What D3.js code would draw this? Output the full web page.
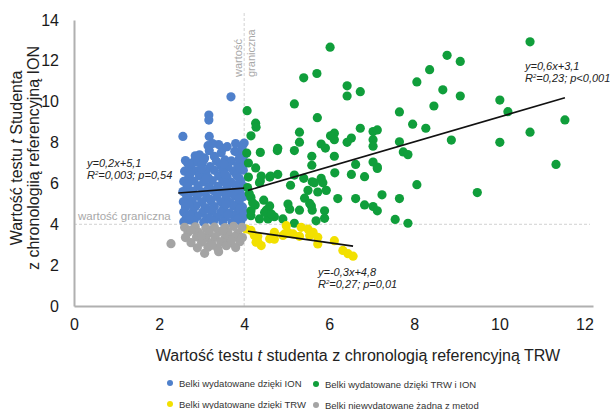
<!DOCTYPE html>
<html>
<head>
<meta charset="utf-8">
<script src="https://cdn.jsdelivr.net/npm/d3@7"></script>
<style>
  body { margin: 0; background: #fff; }
  svg { font-family: Arial, "Liberation Sans", sans-serif; }
</style>
</head>
<body>
<svg id="chart" width="610" height="409"></svg>
<script>
// points, [t TRW, t ION]
const bluePoints = [
  [3.69,10.24],[3.17,9.35],[3.17,9.1],[2.56,8.3],[3.18,8.3],[3.26,7.95],[4.0,7.98],[3.78,7.57],[3.86,7.5],[4.0,7.38],
  [3.46,7.5],[3.5,7.72],[3.18,7.6],[3.07,7.25],[2.67,7.0],[2.83,7.1],[3.3,7.32],[3.6,7.8],[3.4,7.9],[2.95,7.4],
  [2.62,7.12],[2.9,7.05],[3.05,7.15],[3.35,7.08],[3.55,7.15],[3.7,7.1],[3.95,7.05],
  [2.75,6.85],[3.0,6.9],[3.2,6.82],[3.45,6.88],[3.62,6.8],[3.85,6.86],
  [2.6,6.6],[2.88,6.62],[3.1,6.55],[3.3,6.64],[3.5,6.58],[3.75,6.6],[3.98,6.65],
  [2.7,6.35],[2.95,6.38],[3.15,6.3],[3.4,6.36],[3.6,6.32],[3.82,6.4],
  [2.58,6.1],[2.82,6.12],[3.05,6.08],[3.25,6.14],[3.5,6.1],[3.7,6.05],[3.92,6.12],
  [2.66,5.85],[2.92,5.88],[3.18,5.82],[3.38,5.86],[3.6,5.84],[3.8,5.9],[4.0,5.85],
  [2.56,5.6],[2.8,5.62],[3.02,5.58],[3.28,5.64],[3.48,5.6],[3.7,5.56],[3.9,5.62],
  [2.65,5.35],[2.9,5.38],[3.12,5.32],[3.36,5.36],[3.58,5.34],[3.78,5.4],[3.98,5.35],
  [2.57,5.1],[2.78,5.12],[3.0,5.08],[3.22,5.14],[3.45,5.1],[3.68,5.06],[3.88,5.12],
  [2.62,4.85],[2.86,4.88],[3.08,4.82],[3.3,4.86],[3.52,4.84],[3.75,4.9],[3.96,4.85],
  [2.58,4.6],[2.8,4.62],[3.02,4.58],[3.25,4.64],[3.46,4.6],[3.66,4.56],[3.86,4.62],
  [2.64,4.35],[2.9,4.38],[3.12,4.32],[3.35,4.36],[3.56,4.34],[3.78,4.4],[3.98,4.35],
  [2.58,4.12],[2.82,4.14],[3.05,4.1],[3.28,4.15],[3.5,4.12],[3.72,4.1],[3.92,4.14],
  [2.7,6.98],[2.74,6.5],[2.68,5.98],[2.7,5.48],[2.7,4.98],[2.72,4.48],[2.7,4.22],
  [3.0,6.72],[3.1,6.22],[3.15,5.7],[3.2,5.22],[3.18,4.72],[3.2,4.25],
  [3.52,6.95],[3.55,6.45],[3.6,5.96],[3.6,5.46],[3.58,4.98],[3.62,4.48],
  [3.88,7.2],[3.9,6.74],[3.88,6.26],[3.85,5.74],[3.88,5.24],[3.9,4.74],[3.85,4.25],
  [3.8,7.95],[3.95,7.75],[3.15,7.85],[2.85,7.35],[4.0,6.95],[4.0,4.58]
];
const greenPoints = [
  [10.72,12.93],[8.77,12.27],[9.08,11.97],[8.36,11.57],[8.06,10.97],[8.67,10.58],[9.08,10.28],[8.46,9.79],[7.65,9.5],[7.96,8.9],
  [8.27,8.7],[8.87,8.12],[7.65,8.04],[7.74,7.54],[7.85,7.41],[10.01,10.08],[10.2,9.51],[10.01,8.01],[10.72,8.51],[11.54,9.11],
  [11.33,6.93],[6.73,8.7],[7.03,8.54],[7.13,8.62],[7.03,8.14],[7.03,7.82],[6.52,8.22],[6.42,8.01],[6.42,10.78],[6.42,10.28],
  [6.73,10.49],[6.02,12.67],[6.12,8.46],[6.12,8.14],[6.12,7.33],[6.62,6.93],[7.03,7.05],[7.13,6.8],[6.13,6.52],[6.52,6.44],
  [6.83,6.33],[7.13,6.73],[8.06,5.94],[9.48,5.55],[6.2,5.26],[6.62,5.26],[7.24,5.44],[7.65,5.26],[6.83,4.95],[7.03,4.87],
  [7.13,4.66],[7.55,4.24],[7.85,4.05],[4.07,9.56],[5.18,9.89],[5.72,9.22],[4.27,8.95],[4.28,8.75],[4.16,8.33],[5.3,8.51],
  [5.3,8.02],[6.03,8.33],[5.81,7.93],[5.91,7.73],[4.38,7.52],[4.78,7.61],[5.18,7.61],[5.59,7.33],[5.59,6.89],[4.27,6.76],
  [4.1,6.31],[4.38,6.12],[4.6,6.31],[4.79,6.44],[5.09,5.91],[5.18,6.41],[5.4,6.25],[5.6,6.08],[5.81,6.25],[5.85,6.03],
  [5.5,5.66],[5.42,5.28],[5.73,5.58],[5.93,5.66],[4.46,5.18],[4.26,4.94],[4.16,4.66],[4.52,4.69],[4.71,4.37],[4.36,4.26],
  [4.56,4.26],[5.03,4.99],[5.07,4.74],[5.3,4.69],[5.58,4.9],[5.6,4.69],[5.89,4.66],[5.89,4.29],[4.91,4.26],[4.4,6.36],
  [4.62,6.36],[4.36,6.03],[5.65,6.03],[4.16,5.31],[4.6,4.9],[4.48,4.58],[4.64,4.5],[4.16,4.42],[5.18,4.05],[5.54,5.02],
  [5.69,4.17],[5.4,11.17],[5.71,11.38],[4.06,7.49],[4.79,7.72],[4.08,5.8],[4.12,5.5],[4.1,7.0],[4.2,5.05]
];
const yellowPoints = [
  [4.05,3.77],[4.16,3.7],[4.24,3.45],[4.32,3.4],[4.28,3.12],[4.32,3.15],[4.4,2.96],[4.71,3.61],[4.6,3.29],[4.71,3.27],
  [4.95,3.53],[4.99,3.93],[5.15,3.53],[5.34,3.85],[5.3,3.41],[5.5,3.77],[5.54,3.45],[5.62,3.61],[5.73,3.36],[5.73,3.04],
  [6.12,3.2],[6.32,2.72],[6.44,2.56],[6.56,2.44],[4.91,3.45],[5.03,3.61]
];
const grayPoints = [
  [2.28,3.05],
  [2.6,3.85],[2.85,3.88],[3.1,3.82],[3.3,3.86],[3.55,3.84],[3.75,3.9],[3.95,3.85],
  [2.68,3.6],[2.92,3.62],[3.18,3.58],[3.4,3.64],[3.62,3.6],[3.85,3.56],
  [2.62,3.35],[2.88,3.38],[3.1,3.32],[3.32,3.36],[3.55,3.34],[3.78,3.4],[3.96,3.35],
  [2.75,3.1],[3.0,3.12],[3.22,3.08],[3.45,3.14],[3.68,3.1],[3.9,3.15],
  [2.9,2.85],[3.15,2.88],[3.38,2.82],[3.58,2.95],[3.8,2.86],
  [3.07,2.58],[3.4,2.66],[2.75,3.72],[3.0,3.45],[3.5,3.7],[3.7,3.22],[3.25,2.98]
];

// regression lines as drawn: [[x0,y0],[x1,y1]]
const blueFit = [[2.45,5.53],[4.0,5.77]];
const greenFit = [[4.09,5.66],[11.54,10.19]];
const yellowFit = [[4.09,3.66],[6.56,2.93]];

const xTicks = [0, 2, 4, 6, 8, 10, 12];
const yTicks = [0, 2, 4, 6, 8, 10, 12, 14];
const threshold = 4;

const seriesNames = [
  "Belki wydatowane dzięki ION",
  "Belki wydatowane dzięki TRW i ION",
  "Belki wydatowane dzięki TRW",
  "Belki niewydatowane żadną z metod"
];
const colors = ["#4f80cb", "#109e3b", "#f2e000", "#a4a4a4"];

const svg = d3.select("#chart");

const x = d3.scaleLinear().domain([0, 12.2]).range([74, 593]);
const y = d3.scaleLinear().domain([0, 14]).range([306, 20]);

// threshold dashed lines
svg.append("line")
  .attr("x1", x(threshold)).attr("x2", x(threshold))
  .attr("y1", 13).attr("y2", y(0))
  .attr("stroke", "#d2d2d2").attr("stroke-dasharray", "3,2");
svg.append("line")
  .attr("x1", x(0)).attr("x2", 590)
  .attr("y1", y(threshold)).attr("y2", y(threshold))
  .attr("stroke", "#d2d2d2").attr("stroke-dasharray", "3,2");

svg.append("text")
  .attr("x", 78).attr("y", y(threshold) - 4)
  .attr("fill", "#a8a8a8").style("font-size", "11.5px")
  .text("wartość graniczna");

const vLab = svg.append("text")
  .attr("transform", `translate(${x(threshold) - 2},77) rotate(-90)`)
  .attr("fill", "#a8a8a8").style("font-size", "11px");
vLab.append("tspan").attr("x", 0).attr("dy", 0).text("wartość");
vLab.append("tspan").attr("x", 0).attr("dy", 13).text("graniczna");

// axes
const xAxis = svg.append("g")
  .attr("transform", `translate(0,${y(0)})`)
  .call(d3.axisBottom(x).tickValues(xTicks).tickSize(0).tickPadding(13));
const yAxis = svg.append("g")
  .attr("transform", `translate(${x(0)},0)`)
  .call(d3.axisLeft(y).tickValues(yTicks).tickSize(0).tickPadding(15));
[xAxis, yAxis].forEach(g => {
  g.select(".domain").attr("stroke", "#b0b0b0").attr("stroke-width", 2);
  g.selectAll("text").attr("fill", "#1a1a1a").style("font-size", "16px")
    .style("font-family", "Arial, 'Liberation Sans', sans-serif");
});

// points
const groups = [bluePoints, greenPoints, yellowPoints, grayPoints];
groups.forEach((pts, i) => {
  svg.append("g").selectAll("circle")
    .data(pts).enter()
    .append("circle")
    .attr("cx", d => x(d[0]))
    .attr("cy", d => y(d[1]))
    .attr("r", 4.6)
    .attr("fill", colors[i]);
});

// fit lines
const line = d3.line().x(d => x(d[0])).y(d => y(d[1]));
[blueFit, greenFit, yellowFit].forEach(f => {
  svg.append("path").attr("d", line(f))
    .attr("fill", "none").attr("stroke", "#111").attr("stroke-width", 1.6);
});

// equations
function eq(px, py, l1, r2rest) {
  const t = svg.append("text").attr("x", px).attr("y", py)
    .style("font-size", "11px").style("font-style", "italic").attr("fill", "#222");
  t.append("tspan").attr("x", px).text(l1);
  const t2 = t.append("tspan").attr("x", px).attr("dy", 11.5);
  t2.text("R");
  t2.append("tspan").attr("dy", -4).style("font-size", "6px").text("2");
  t2.append("tspan").attr("dy", 4).text(r2rest);
}
eq(87, 167, "y=0,2x+5,1", "=0,003; p=0,54");
eq(525, 70, "y=0,6x+3,1", "=0,23; p<0,001");
eq(318, 276, "y=-0,3x+4,8", "=0,27; p=0,01");

// axis titles
const xt = svg.append("text").attr("x", 358).attr("y", 361)
  .attr("text-anchor", "middle").attr("fill", "#222").style("font-size", "16px");
xt.append("tspan").text("Wartość testu ");
xt.append("tspan").style("font-style", "italic").text("t");
xt.append("tspan").text(" studenta z chronologią referencyjną TRW");

const yt = svg.append("text")
  .attr("transform", "translate(22,158) rotate(-90)")
  .attr("text-anchor", "middle").attr("fill", "#222").style("font-size", "16px");
const l1 = yt.append("tspan").attr("x", 0).attr("dy", 0);
l1.append("tspan").text("Wartość testu ");
l1.append("tspan").style("font-style", "italic").text("t");
l1.append("tspan").text(" Studenta");
yt.append("tspan").attr("x", 0).attr("dy", 17).text("z chronologiią referencyjną ION");

// legend
const legendPos = [[170, 383], [316, 384], [170, 404], [316, 405]];
seriesNames.forEach((name, i) => {
  const g = svg.append("g").attr("transform", `translate(${legendPos[i][0]},${legendPos[i][1]})`);
  g.append("circle").attr("r", 3).attr("fill", colors[i]);
  g.append("text").attr("x", 9).attr("y", 3.5)
    .attr("fill", "#333").style("font-size", "9.5px").text(name);
});
</script>
</body>
</html>
